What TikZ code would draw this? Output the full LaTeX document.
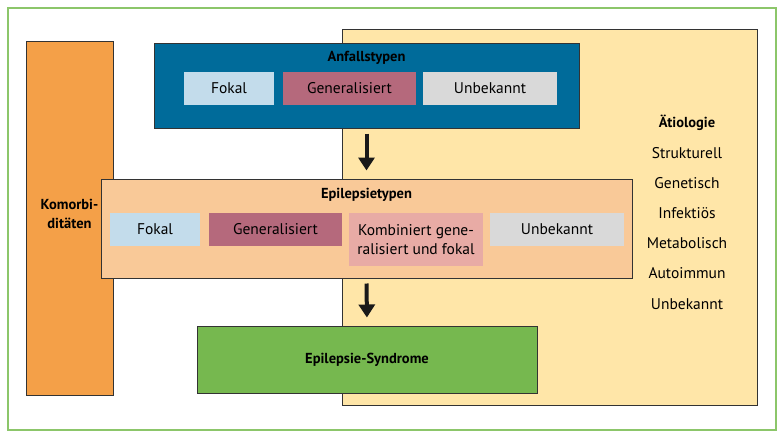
\documentclass[tikz,border=0pt]{standalone}
\usepackage{fontspec}
\setmainfont{PT Sans}
\usetikzlibrary{arrows.meta, positioning}
\definecolor{framegreen}{RGB}{140,198,106}
\definecolor{etioyellow}{RGB}{255,230,168}
\definecolor{komorange}{RGB}{244,160,72}
\definecolor{anfallblue}{RGB}{0,107,154}
\definecolor{epipeach}{RGB}{249,201,152}
\definecolor{syndrgreen}{RGB}{118,184,79}
\definecolor{fokalblue}{RGB}{195,220,235}
\definecolor{generalmauve}{RGB}{181,105,124}
\definecolor{unbekgray}{RGB}{217,217,217}
\definecolor{kombipink}{RGB}{232,171,165}

\begin{document}
\begin{tikzpicture}[x=1pt, y=-1pt,
    bigbox/.style={rectangle, draw=black!80, line width=1pt, inner sep=0pt},
    typbox/.style={rectangle, inner sep=0pt, minimum height=33pt, align=center,
        font=\fontsize{15.5}{19}\selectfont},
    title/.style={font=\fontsize{14.5}{19}\selectfont\bfseries, align=center},
    etioitem/.style={font=\fontsize{15.5}{19}\selectfont},
    arrow/.style={-{Triangle[width=16pt, length=13pt]}, line width=4pt, black!90,
        shorten <=5pt, shorten >=8pt}
]
    \useasboundingbox (0,0) rectangle (777,432);

    % Frame
    \draw[framegreen, line width=2pt] (8,8) rectangle (776,430);

    % Big boxes
    \node[bigbox, fill=etioyellow, minimum width=415pt, minimum height=376pt] (etio) at (549.5,217) {};
    \node[bigbox, fill=komorange, minimum width=87pt, minimum height=354pt] (komor) at (69.5,218) {};
    \node[bigbox, fill=anfallblue, minimum width=425pt, minimum height=85pt] (anfall) at (366.5,85.5) {};
    \node[bigbox, fill=epipeach, minimum width=531pt, minimum height=99pt] (epi) at (366.5,228.5) {};
    \node[bigbox, fill=syndrgreen, minimum width=340pt, minimum height=67pt] (syndr) at (367,359.5) {};

    % Titles
    \node[title] (anfalltitle) at (366.5,58) {Anfallstypen};
    \node[title] (epititle) at (366.5,195) {Epilepsietypen};
    \node[title] (syndrtitle) at (syndr) {Epilepsie-Syndrome};
    \node[title] (komortitle) at (69.5,214) {Komorbi-\\ditäten};

    % Seizure types
    \node[typbox, fill=fokalblue, minimum width=90pt] (fokalA) at (229,88.5) {Fokal};
    \node[typbox, fill=generalmauve, minimum width=133pt] (generA) at (349.5,88.5) {Generalisiert};
    \node[typbox, fill=unbekgray, minimum width=134pt] (unbekA) at (490,88.5) {Unbekannt};

    % Epilepsy types
    \node[typbox, fill=fokalblue, minimum width=90pt] (fokalE) at (155,229.5) {Fokal};
    \node[typbox, fill=generalmauve, minimum width=133pt] (generE) at (275.5,229.5) {Generalisiert};
    \node[typbox, fill=kombipink, minimum width=134pt, minimum height=53pt] (kombE) at (416,239.5)
        {Kombiniert gene-\\ralisiert und fokal};
    \node[typbox, fill=unbekgray, minimum width=134pt] (unbekE) at (557,229.5) {Unbekannt};

    % Etiology list
    \node[title] (etiotitle) at (687,123) {Ätiologie};
    \node[etioitem] (struk) at (687,153) {Strukturell};
    \node[etioitem] (genet) at (687,183) {Genetisch};
    \node[etioitem] (infekt) at (687,213) {Infektiös};
    \node[etioitem] (metab) at (687,243) {Metabolisch};
    \node[etioitem] (autoim) at (687,273) {Autoimmun};
    \node[etioitem] (unbekEt) at (687,304) {Unbekannt};

    % Down arrows
    \draw[arrow] (anfall.south) -- (epi.north);
    \draw[arrow] (epi.south) -- (syndr.north);
\end{tikzpicture}
\end{document}
